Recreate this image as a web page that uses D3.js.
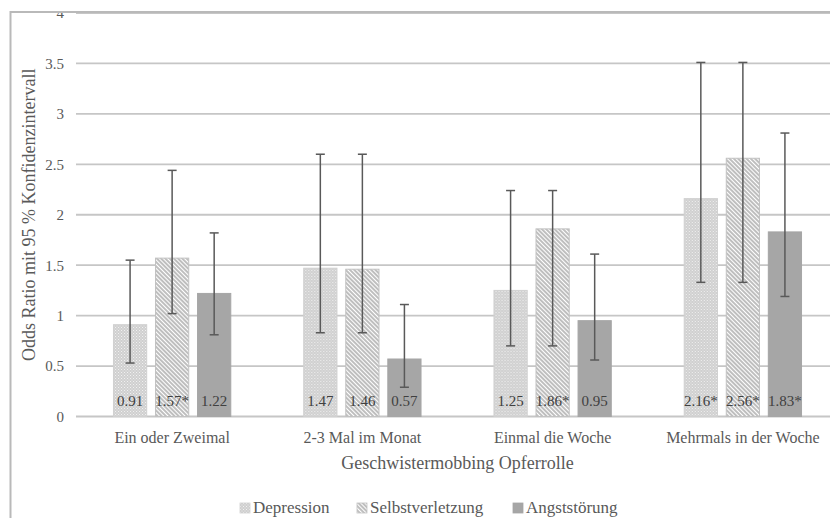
<!DOCTYPE html>
<html>
<head>
<meta charset="utf-8">
<script src="https://cdn.jsdelivr.net/npm/d3@7"></script>
<style>
  body { margin: 0; background: #fff; }
  svg text { font-family: "Liberation Serif", "Times New Roman", serif; }
</style>
</head>
<body>
<svg id="chart" width="830" height="518"></svg>
<script>
// Categories and series
const categories = ['Ein oder Zweimal', '2-3 Mal im Monat', 'Einmal die Woche', 'Mehrmals in der Woche'];
const seriesNames = ['Depression', 'Selbstverletzung', 'Angststörung'];

// Odds ratios
const depression = [0.91, 1.47, 1.25, 2.16];
const selbstverletzung = [1.57, 1.46, 1.86, 2.56];
const angststoerung = [1.22, 0.57, 0.95, 1.83];

// 95 % confidence intervals
const depressionLow = [0.53, 0.83, 0.70, 1.33];
const depressionHigh = [1.55, 2.60, 2.24, 3.51];
const selbstLow = [1.02, 0.83, 0.70, 1.33];
const selbstHigh = [2.44, 2.60, 2.24, 3.51];
const angstLow = [0.81, 0.29, 0.56, 1.19];
const angstHigh = [1.82, 1.11, 1.61, 2.81];

// Data labels (* = significant)
const depressionLabels = ['0.91', '1.47', '1.25', '2.16*'];
const selbstLabels = ['1.57*', '1.46', '1.86*', '2.56*'];
const angstLabels = ['1.22', '0.57', '0.95', '1.83*'];

// Axis ticks
const yTicks = [0, 0.5, 1, 1.5, 2, 2.5, 3, 3.5, 4];

const seriesValues = [depression, selbstverletzung, angststoerung];
const seriesLow = [depressionLow, selbstLow, angstLow];
const seriesHigh = [depressionHigh, selbstHigh, angstHigh];
const seriesLabels = [depressionLabels, selbstLabels, angstLabels];

const svg = d3.select('#chart');
const textColor = '#595959';

// Patterns for bar fills.
const defs = svg.append('defs');
const dots = defs.append('pattern')
  .attr('id', 'dots')
  .attr('patternUnits', 'userSpaceOnUse')
  .attr('width', 3)
  .attr('height', 3);
dots.append('rect').attr('width', 3).attr('height', 3).attr('fill', '#cfcfcf');
dots.append('rect').attr('x', 0).attr('y', 0).attr('width', 1).attr('height', 1).attr('fill', '#f2f2f2');
dots.append('rect').attr('x', 1.5).attr('y', 1.5).attr('width', 1).attr('height', 1).attr('fill', '#ebebeb');

const hatch = defs.append('pattern')
  .attr('id', 'hatch')
  .attr('patternUnits', 'userSpaceOnUse')
  .attr('width', 3)
  .attr('height', 3)
  .attr('patternTransform', 'rotate(-45)');
hatch.append('rect').attr('width', 3).attr('height', 3).attr('fill', '#fff');
hatch.append('line')
  .attr('x1', 1).attr('x2', 1).attr('y1', 0).attr('y2', 3)
  .attr('stroke', '#9c9c9c')
  .attr('stroke-width', 1.3);

const fills = ['url(#dots)', 'url(#hatch)', '#a6a6a6'];
const strokes = ['#d0d0d0', '#c2c2c2', '#a6a6a6'];

// Scales.
const x0 = d3.scaleBand()
  .domain(categories)
  .range([77, 838])
  .paddingInner(0.337)
  .paddingOuter(0.1685);

const x1 = d3.scaleBand()
  .domain(seriesNames)
  .range([0, x0.bandwidth()])
  .paddingInner(0.21)
  .paddingOuter(0.105);

const y = d3.scaleLinear()
  .domain([0, 4])
  .range([416.5, 13]);

// Gridlines.
svg.append('g')
  .selectAll('line')
  .data(yTicks)
  .join('line')
  .attr('x1', 76)
  .attr('x2', 830)
  .attr('y1', d => y(d))
  .attr('y2', d => y(d))
  .attr('stroke', '#c6c6c6')
  .attr('stroke-width', 1.8);

// Y axis labels.
const yAxis = svg.append('g')
  .attr('transform', 'translate(77,0)')
  .call(d3.axisLeft(y).tickValues(yTicks).tickSize(0).tickPadding(13).tickFormat(d => String(d)));
yAxis.attr('font-family', null).attr('font-size', null);
yAxis.select('.domain').remove();
yAxis.selectAll('text')
  .style('font-size', '15px')
  .attr('fill', textColor);

// Bars.
const rows = categories.map((c, i) => seriesNames.map((s, k) => ({
  category: c,
  series: s,
  k: k,
  value: seriesValues[k][i],
  low: seriesLow[k][i],
  high: seriesHigh[k][i],
  label: seriesLabels[k][i]
})));

const groups = svg.append('g')
  .selectAll('g')
  .data(rows)
  .join('g')
  .attr('transform', d => 'translate(' + x0(d[0].category) + ',0)');

groups.selectAll('rect')
  .data(d => d)
  .join('rect')
  .attr('x', d => x1(d.series))
  .attr('y', d => y(d.value))
  .attr('width', x1.bandwidth())
  .attr('height', d => y(0) - y(d.value))
  .attr('fill', d => fills[d.k])
  .attr('stroke', d => strokes[d.k])
  .attr('stroke-width', 1);

// Data labels at the foot of each bar.
groups.selectAll('text.value')
  .data(d => d)
  .join('text')
  .attr('class', 'value')
  .attr('x', d => x1(d.series) + x1.bandwidth() / 2)
  .attr('y', y(0) - 11)
  .attr('text-anchor', 'middle')
  .style('font-size', '15px')
  .attr('fill', '#404040')
  .text(d => d.label);

// Error bars.
const err = groups.selectAll('g.err')
  .data(d => d)
  .join('g')
  .attr('class', 'err')
  .attr('stroke', '#595959')
  .attr('stroke-width', 1.5);

err.append('line')
  .attr('x1', d => x1(d.series) + x1.bandwidth() / 2)
  .attr('x2', d => x1(d.series) + x1.bandwidth() / 2)
  .attr('y1', d => y(d.low))
  .attr('y2', d => y(d.high));

['low', 'high'].forEach(key => {
  err.append('line')
    .attr('x1', d => x1(d.series) + x1.bandwidth() / 2 - 4.5)
    .attr('x2', d => x1(d.series) + x1.bandwidth() / 2 + 4.5)
    .attr('y1', d => y(d[key]))
    .attr('y2', d => y(d[key]));
});

// Category axis.
const xAxis = svg.append('g')
  .attr('transform', 'translate(0,' + y(0) + ')')
  .call(d3.axisBottom(x0).tickSize(0).tickPadding(15));
xAxis.attr('font-family', null).attr('font-size', null);
xAxis.select('.domain').remove();
xAxis.selectAll('text')
  .style('font-size', '16px')
  .attr('fill', textColor);

// Axis titles.
svg.append('text')
  .attr('x', (77 + 838) / 2)
  .attr('y', 469)
  .attr('text-anchor', 'middle')
  .style('font-size', '18px')
  .attr('fill', textColor)
  .text('Geschwistermobbing Opferrolle');

svg.append('text')
  .attr('transform', 'translate(35,' + (y(0) + y(4)) / 2 + ') rotate(-90)')
  .attr('text-anchor', 'middle')
  .style('font-size', '18px')
  .attr('fill', textColor)
  .text('Odds Ratio mit 95 % Konfidenzintervall');

// Legend.
const legendX = [240, 357, 513];
const legend = svg.append('g')
  .selectAll('g')
  .data(seriesNames)
  .join('g')
  .attr('transform', (d, i) => 'translate(' + legendX[i] + ',503)');

legend.append('rect')
  .attr('width', 10)
  .attr('height', 10)
  .attr('fill', (d, i) => fills[i])
  .attr('stroke', (d, i) => strokes[i])
  .attr('stroke-width', 0.8);

legend.append('text')
  .attr('x', 13)
  .attr('y', 10)
  .style('font-size', '17px')
  .attr('fill', textColor)
  .text(d => d);

// Frame: the top edge hides the upper half of the "4" label.
svg.append('rect')
  .attr('width', 830)
  .attr('height', 11.5)
  .attr('fill', '#fff');

svg.append('path')
  .attr('d', 'M10.5,518V12H830')
  .attr('fill', 'none')
  .attr('stroke', '#b9b9b9')
  .attr('stroke-width', 2);
</script>
</body>
</html>
